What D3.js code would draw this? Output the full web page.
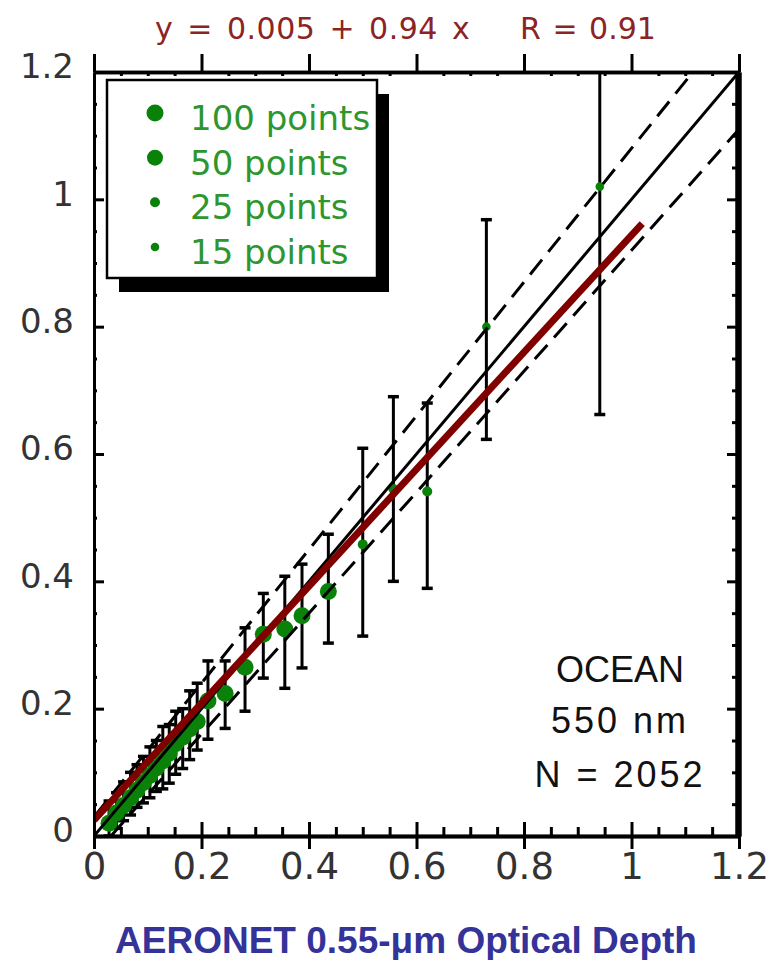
<!DOCTYPE html>
<html>
<head>
<meta charset="utf-8">
<script src="https://cdn.jsdelivr.net/npm/d3@7"></script>
<style>
  body { margin: 0; background: #fff; }
  svg { display: block; }
</style>
</head>
<body>
<svg id="chart" width="779" height="960"></svg>
<script>
// binned MODIS vs AERONET optical depth
var aeronetTau = [0.028, 0.042, 0.055, 0.068, 0.080, 0.092, 0.104, 0.116, 0.128, 0.140, 0.152, 0.165, 0.178,
                  0.192, 0.212, 0.244, 0.281, 0.315, 0.355, 0.387, 0.436, 0.500, 0.557, 0.620, 0.730, 0.941];
var modisTau   = [0.020, 0.036, 0.048, 0.060, 0.072, 0.084, 0.095, 0.107, 0.118, 0.130, 0.145, 0.155, 0.168,
                  0.180, 0.212, 0.224, 0.265, 0.317, 0.325, 0.346, 0.384, 0.458, 0.545, 0.541, 0.800, 1.020];
var modisLo    = [0.000, 0.012, 0.024, 0.033, 0.045, 0.052, 0.060, 0.070, 0.074, 0.083, 0.097, 0.106, 0.120,
                  0.135, 0.152, 0.169, 0.196, 0.248, 0.232, 0.264, 0.303, 0.314, 0.400, 0.389, 0.623, 0.662];
var modisHi    = [0.055, 0.068, 0.085, 0.100, 0.112, 0.125, 0.140, 0.150, 0.172, 0.175, 0.196, 0.200, 0.228,
                  0.240, 0.275, 0.275, 0.327, 0.381, 0.408, 0.427, 0.474, 0.609, 0.690, 0.680, 0.968, 1.250];
var binCount   = [100, 100, 100, 100, 100, 100, 100, 100, 100, 100, 100, 100, 100,
                  100, 100, 100, 100, 100, 100, 100, 100, 25, 25, 25, 15, 15];

// regression line end points, and expected error envelope +-(0.03 + 0.05 tau)
var fitX = [0, 1.02];
var fitY = [0.025, 0.962];
var eeOffset = 0.03, eeSlope = 0.05;

var legendCounts = [100, 50, 25, 15];
var legendLabels = ["100 points", "50 points", "25 points", "15 points"];
var majorTicks = [0, 0.2, 0.4, 0.6, 0.8, 1, 1.2];
var tickLabels = ["0", "0.2", "0.4", "0.6", "0.8", "1", "1.2"];
var minorTicks = d3.range(0, 25).map(function(i){ return i * 0.05; });
var noteLines = ["OCEAN", "550 nm", "N = 2052"];

var svg = d3.select("#chart");

var x = d3.scaleLinear().domain([0, 1.2]).range([94, 739]);
var y = d3.scaleLinear().domain([0, 1.2]).range([836, 72]);
var radius = d3.scaleOrdinal().domain([100, 50, 25, 15]).range([8.5, 8, 5, 4.3]);

var dotGreen = "#0a820a";

svg.append("defs").append("clipPath").attr("id", "plotclip")
    .append("rect")
    .attr("x", x(0)).attr("y", y(1.2))
    .attr("width", x(1.2) - x(0)).attr("height", y(0) - y(1.2));

// title
var title = svg.append("g")
    .style("font-family", "DejaVu Sans")
    .style("font-size", "30px")
    .style("fill", "#8c2424");
title.append("text").attr("x", 155).attr("y", 39)
    .style("word-spacing", "4px")
    .style("letter-spacing", "0.5px")
    .text("y = 0.005 + 0.94 x");
title.append("text").attr("x", 520).attr("y", 39)
    .style("word-spacing", "2px")
    .text("R = 0.91");

var plot = svg.append("g").attr("clip-path", "url(#plotclip)");

// error bars
var idx = d3.range(aeronetTau.length);
plot.selectAll(".bar")
    .data(idx)
    .enter()
    .append("line")
    .attr("x1", function(i){ return x(aeronetTau[i]); })
    .attr("x2", function(i){ return x(aeronetTau[i]); })
    .attr("y1", function(i){ return y(modisLo[i]); })
    .attr("y2", function(i){ return y(modisHi[i]); })
    .attr("stroke", "#000")
    .attr("stroke-width", 3);

plot.selectAll(".capHi")
    .data(idx)
    .enter()
    .append("line")
    .attr("x1", function(i){ return x(aeronetTau[i]) - 5.5; })
    .attr("x2", function(i){ return x(aeronetTau[i]) + 5.5; })
    .attr("y1", function(i){ return y(modisHi[i]); })
    .attr("y2", function(i){ return y(modisHi[i]); })
    .attr("stroke", "#000")
    .attr("stroke-width", 3.5);

plot.selectAll(".capLo")
    .data(idx)
    .enter()
    .append("line")
    .attr("x1", function(i){ return x(aeronetTau[i]) - 5.5; })
    .attr("x2", function(i){ return x(aeronetTau[i]) + 5.5; })
    .attr("y1", function(i){ return y(modisLo[i]); })
    .attr("y2", function(i){ return y(modisLo[i]); })
    .attr("stroke", "#000")
    .attr("stroke-width", 3.5);

// points
plot.selectAll(".dot")
    .data(idx)
    .enter()
    .append("circle")
    .attr("cx", function(i){ return x(aeronetTau[i]); })
    .attr("cy", function(i){ return y(modisTau[i]); })
    .attr("r", function(i){ return radius(binCount[i]); })
    .attr("fill", dotGreen);

// expected error lines (dashed)
var eeUpperEnd = (1.2 - eeOffset) / (1 + eeSlope);
var eeLowerStart = eeOffset / (1 - eeSlope);
plot.append("line")
    .attr("x1", x(0)).attr("y1", y(eeOffset))
    .attr("x2", x(eeUpperEnd)).attr("y2", y(1.2))
    .attr("stroke", "#000").attr("stroke-width", 3)
    .attr("stroke-dasharray", "19,10");
plot.append("line")
    .attr("x1", x(eeLowerStart)).attr("y1", y(0))
    .attr("x2", x(1.2)).attr("y2", y(1.2 * (1 - eeSlope) - eeOffset))
    .attr("stroke", "#000").attr("stroke-width", 3)
    .attr("stroke-dasharray", "19,10");

// 1:1 line
plot.append("line")
    .attr("x1", x(0)).attr("y1", y(0))
    .attr("x2", x(1.2)).attr("y2", y(1.2))
    .attr("stroke", "#000").attr("stroke-width", 3);

// regression line
plot.append("line")
    .attr("x1", x(fitX[0])).attr("y1", y(fitY[0]))
    .attr("x2", x(fitX[1])).attr("y2", y(fitY[1]))
    .attr("stroke", "#800000").attr("stroke-width", 7);

// ---- axes ----
var isMinor = function(d){ return majorTicks.every(function(m){ return Math.abs(m - d) > 1e-6; }); };
var minorOnly = minorTicks.filter(isMinor);

function styleAxis(g, width) {
    g.select(".domain").attr("stroke", "#000").attr("stroke-width", width);
    g.selectAll(".tick line").attr("stroke", "#000").attr("stroke-width", 3);
    g.selectAll("text")
        .style("font-family", "DejaVu Sans")
        .style("fill", "#333");
}

// left
var gl = svg.append("g").attr("transform", "translate(" + x(0) + ",0)")
    .call(d3.axisLeft(y).tickValues(majorTicks).tickSize(-10).tickSizeOuter(0).tickPadding(20)
        .tickFormat(function(d, i){ return tickLabels[i]; }));
styleAxis(gl, 3);
gl.selectAll("text").style("font-size", "34px").attr("dy", "0.17em");
svg.append("g").attr("transform", "translate(" + x(0) + ",0)")
    .call(d3.axisLeft(y).tickValues(minorOnly).tickSize(-3).tickSizeOuter(0).tickFormat(""))
    .call(function(g){ styleAxis(g, 3); });

// bottom
var gb = svg.append("g").attr("transform", "translate(0," + y(0) + ")")
    .call(d3.axisBottom(x).tickValues(majorTicks).tickSize(-14).tickSizeOuter(0).tickPadding(17)
        .tickFormat(function(d, i){ return tickLabels[i]; }));
styleAxis(gb, 3.5);
gb.selectAll("text").style("font-size", "37px");
svg.append("g").attr("transform", "translate(0," + y(0) + ")")
    .call(d3.axisBottom(x).tickValues(majorTicks).tickSize(13).tickSizeOuter(0).tickFormat(""))
    .call(function(g){ styleAxis(g, 3.5); });
svg.append("g").attr("transform", "translate(0," + y(0) + ")")
    .call(d3.axisBottom(x).tickValues(minorOnly).tickSize(-9).tickSizeOuter(0).tickFormat(""))
    .call(function(g){ styleAxis(g, 3.5); });

// top
svg.append("g").attr("transform", "translate(0," + y(1.2) + ")")
    .call(d3.axisTop(x).tickValues(majorTicks).tickSize(18).tickSizeOuter(0).tickFormat(""))
    .call(function(g){ styleAxis(g, 3.5); });
svg.append("g").attr("transform", "translate(0," + y(1.2) + ")")
    .call(d3.axisTop(x).tickValues(minorOnly).tickSize(-4).tickSizeOuter(0).tickFormat(""))
    .call(function(g){ styleAxis(g, 3.5); });

// right (heavy)
svg.append("g").attr("transform", "translate(" + (x(1.2) - 1) + ",0)")
    .call(d3.axisRight(y).tickValues(majorTicks).tickSize(-11).tickSizeOuter(0).tickFormat(""))
    .call(function(g){ styleAxis(g, 6); });
svg.append("g").attr("transform", "translate(" + (x(1.2) - 1) + ",0)")
    .call(d3.axisRight(y).tickValues(minorOnly).tickSize(-6).tickSizeOuter(0).tickFormat(""))
    .call(function(g){ styleAxis(g, 6); });

// ---- legend ----
var legend = svg.append("g");
legend.append("rect")
    .attr("x", 119).attr("y", 94).attr("width", 270).attr("height", 198)
    .attr("fill", "#000");
legend.append("rect")
    .attr("x", 107).attr("y", 80).attr("width", 270).attr("height", 198)
    .attr("fill", "#fff").attr("stroke", "#000").attr("stroke-width", 2.5);

var legendY = d3.scalePoint().domain(legendCounts).range([130, 264]);
legend.selectAll(".ldot")
    .data(legendCounts)
    .enter()
    .append("circle")
    .attr("cx", 155)
    .attr("cy", function(d){ return legendY(d) - 17; })
    .attr("r", function(d){ return radius(d); })
    .attr("fill", dotGreen);
legend.selectAll(".ltext")
    .data(legendCounts)
    .enter()
    .append("text")
    .attr("x", 190)
    .attr("y", function(d){ return legendY(d); })
    .style("font-family", "DejaVu Sans")
    .style("font-size", "34px")
    .style("fill", "#2e962e")
    .text(function(d, i){ return legendLabels[i]; });

// ---- annotation ----
svg.selectAll(".note")
    .data(noteLines)
    .enter()
    .append("text")
    .attr("x", 620)
    .attr("y", function(d, i){ return [682, 733, 787][i]; })
    .attr("text-anchor", "middle")
    .style("font-family", "Liberation Sans, Arial, sans-serif")
    .style("font-size", "36px")
    .style("letter-spacing", function(d, i){ return i === 0 ? "0px" : "3px"; })
    .style("fill", "#111")
    .text(function(d){ return d; });

// x axis title
svg.append("text")
    .attr("x", 406)
    .attr("y", 953)
    .attr("text-anchor", "middle")
    .style("font-family", "Liberation Sans, Arial, sans-serif")
    .style("font-weight", "bold")
    .style("font-size", "37px")
    .style("fill", "#333399")
    .text("AERONET 0.55-\u03bcm Optical Depth");
</script>
</body>
</html>
